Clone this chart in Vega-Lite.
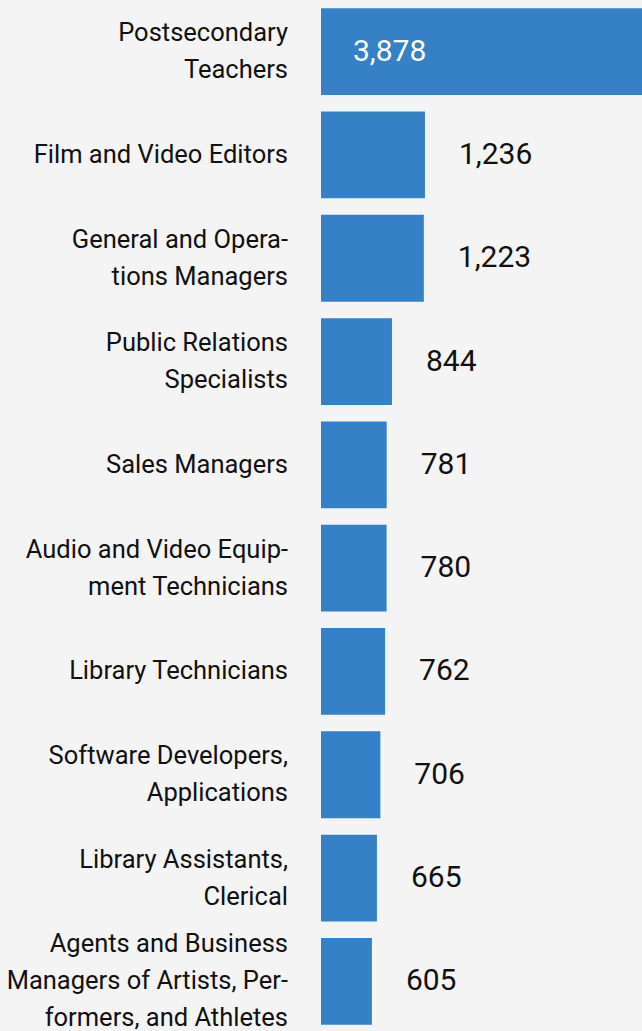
{
  "$schema": "https://vega.github.io/schema/vega-lite/v6.json",
  "width": 321,
  "height": 1033,
  "autosize": "none",
  "padding": {"left": 321, "top": 0, "right": 0, "bottom": 0},
  "background": "#f4f4f4",
  "config": {"view": {"stroke": null}},
  "data": {"values": [
    {"category": "Postsecondary|Teachers", "value": 3878},
    {"category": "Film and Video Editors", "value": 1236},
    {"category": "General and Opera-|tions Managers", "value": 1223},
    {"category": "Public Relations|Specialists", "value": 844},
    {"category": "Sales Managers", "value": 781},
    {"category": "Audio and Video Equip-|ment Technicians", "value": 780},
    {"category": "Library Technicians", "value": 762},
    {"category": "Software Developers,|Applications", "value": 706},
    {"category": "Library Assistants,|Clerical", "value": 665},
    {"category": "Agents and Business|Managers of Artists, Per-|formers, and Athletes", "value": 605}
  ]},
  "encoding": {
    "y": {
      "field": "category", "type": "nominal", "sort": null,
      "scale": {"paddingInner": 0.16, "paddingOuter": 0.08},
      "axis": null
    }
  },
  "layer": [
    {
      "mark": {"type": "bar", "color": "#3580c6", "clip": true},
      "encoding": {
        "x": {"field": "value", "type": "quantitative", "scale": {"domain": [0, 3817], "nice": false, "zero": true}, "axis": null}
      }
    },
    {
      "transform": [{"filter": "datum.value < 3000"}],
      "mark": {"type": "text", "align": "left", "baseline": "middle", "dx": 34, "font": "Roboto", "fontSize": 30, "color": "#111111"},
      "encoding": {
        "x": {"field": "value", "type": "quantitative", "scale": {"domain": [0, 3817], "nice": false}},
        "text": {"field": "value", "type": "quantitative", "format": ","}
      }
    },
    {
      "transform": [{"filter": "datum.value >= 3000"}],
      "mark": {"type": "text", "align": "left", "baseline": "middle", "dx": 32, "font": "Roboto", "fontSize": 30, "color": "#ffffff"},
      "encoding": {
        "x": {"datum": 0, "type": "quantitative", "scale": {"domain": [0, 3817], "nice": false}},
        "text": {"field": "value", "type": "quantitative", "format": ","}
      }
    },
    {
      "transform": [{"filter": "length(split(datum.category, '|')) == 1"}],
      "mark": {"type": "text", "align": "right", "baseline": "middle", "dx": -33, "font": "Roboto", "fontSize": 25.5, "color": "#111111", "lineBreak": "|", "lineHeight": 37},
      "encoding": {
        "x": {"datum": 0, "type": "quantitative", "scale": {"domain": [0, 3817], "nice": false}},
        "text": {"field": "category", "type": "nominal"}
      }
    },
    {
      "transform": [{"filter": "length(split(datum.category, '|')) == 2"}],
      "mark": {"type": "text", "align": "right", "baseline": "middle", "dx": -33, "dy": -18.5, "font": "Roboto", "fontSize": 25.5, "color": "#111111", "lineBreak": "|", "lineHeight": 37},
      "encoding": {
        "x": {"datum": 0, "type": "quantitative", "scale": {"domain": [0, 3817], "nice": false}},
        "text": {"field": "category", "type": "nominal"}
      }
    },
    {
      "transform": [{"filter": "length(split(datum.category, '|')) == 3"}],
      "mark": {"type": "text", "align": "right", "baseline": "middle", "dx": -33, "dy": -37, "font": "Roboto", "fontSize": 25.5, "color": "#111111", "lineBreak": "|", "lineHeight": 37},
      "encoding": {
        "x": {"datum": 0, "type": "quantitative", "scale": {"domain": [0, 3817], "nice": false}},
        "text": {"field": "category", "type": "nominal"}
      }
    }
  ]
}
